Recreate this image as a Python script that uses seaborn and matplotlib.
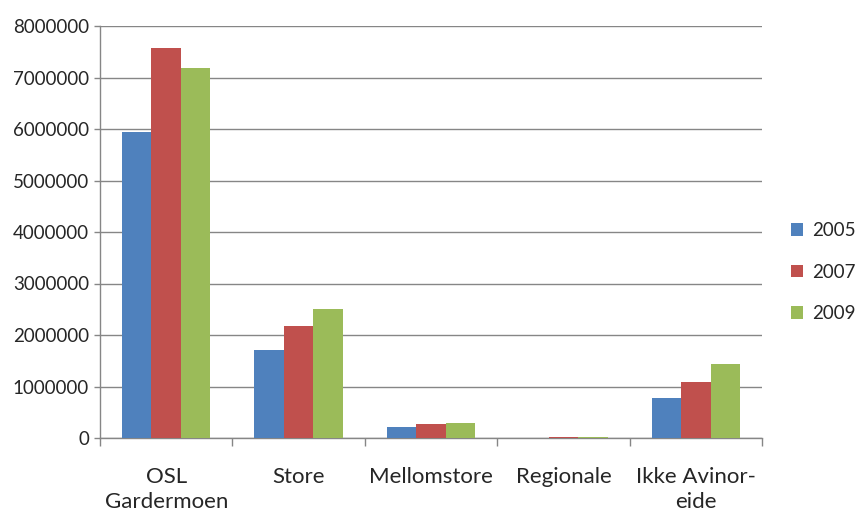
import matplotlib
matplotlib.use("Agg")
import matplotlib.pyplot as plt
import seaborn as sns
import pandas as pd
import numpy as np

categories = ["OSL\nGardermoen", "Store", "Mellomstore", "Regionale", "Ikke Avinor-\neide"]
years = ["2005", "2007", "2009"]
v2005 = [5950000, 1710000, 210000, 8000, 780000]
v2007 = [7570000, 2180000, 270000, 10000, 1080000]
v2009 = [7190000, 2500000, 300000, 12000, 1430000]
colors = ["#4F81BD", "#C0504D", "#9BBB59"]

rows = []
for year, vals in zip(years, [v2005, v2007, v2009]):
    for cat, v in zip(categories, vals):
        rows.append({"Kategori": cat, "År": year, "Verdi": v})
df = pd.DataFrame(rows)

sns.set_theme(style="white")
plt.rcParams["font.family"] = ["Lato", "DejaVu Sans"]

fig = plt.figure(figsize=(8.59, 5.13), dpi=100)
ax = fig.add_axes([100 / 859, (513 - 438) / 513, 662 / 859, 412 / 513])

sns.barplot(data=df, x="Kategori", y="Verdi", hue="År", order=categories,
            hue_order=years, palette=colors, width=0.667, gap=0,
            saturation=1, ax=ax, zorder=3, linewidth=0)

grid_c = "#868686"
ax.set_ylim(0, 8000000)
ax.set_xlim(-0.5, len(categories) - 0.5)
ax.set_yticks(np.arange(0, 8000001, 1000000))
ax.set_yticklabels([f"{int(t)}" for t in np.arange(0, 8000001, 1000000)], fontsize=13.5)
ax.yaxis.grid(True, color=grid_c, linewidth=1, zorder=0)
ax.set_axisbelow(True)
ax.tick_params(axis="y", length=4, width=1, color=grid_c, left=True, pad=4)

ax.set_xticks(range(len(categories)))
ax.set_xticklabels(categories, fontsize=16, linespacing=1.32)
ax.tick_params(axis="x", which="major", length=0, pad=21)
ax.set_xticks(np.arange(-0.5, len(categories)), minor=True)
ax.tick_params(axis="x", which="minor", length=6, width=1, color=grid_c, bottom=True, direction="out")

ax.set_xlabel("")
ax.set_ylabel("")
for side in ["top", "right"]:
    ax.spines[side].set_visible(False)
for side in ["left", "bottom"]:
    ax.spines[side].set_color(grid_c)
    ax.spines[side].set_linewidth(1)

ax.legend(title=None, frameon=False, loc="center left",
          bbox_to_anchor=((791 - 100) / 662, (438 - 272) / 412),
          fontsize=13.5, handlelength=0.65, handleheight=0.65, handletextpad=0.45,
          labelspacing=1.3, borderaxespad=0, borderpad=0)

fig.savefig("out.png", dpi=100)
